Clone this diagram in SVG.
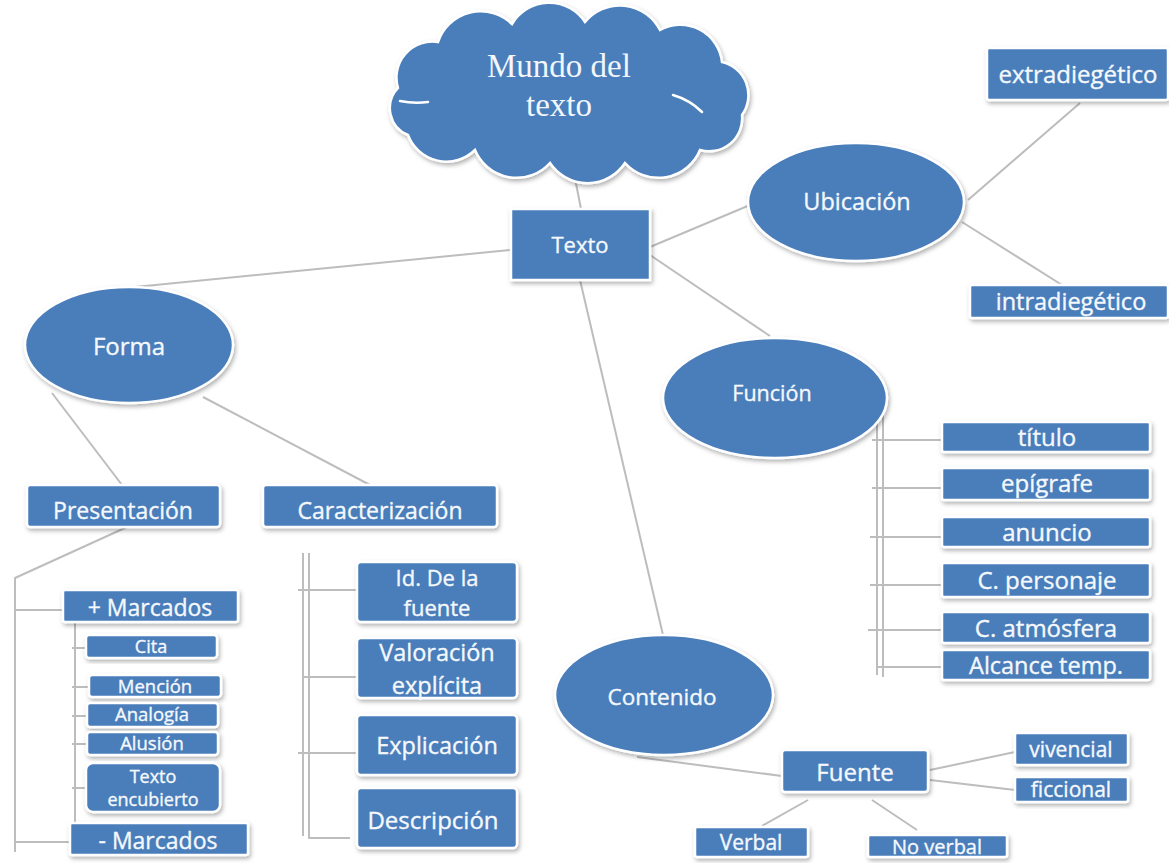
<svg xmlns="http://www.w3.org/2000/svg" width="1169" height="863" viewBox="0 0 1169 863">
  <defs>
    <filter id="shadow" x="-10%" y="-10%" width="125%" height="135%">
      <feDropShadow dx="1.5" dy="2.5" stdDeviation="2" flood-color="#000" flood-opacity="0.3"/>
    </filter>
  </defs>
  <style>
    .shape { fill: #4a7ebb; stroke: #ffffff; stroke-width: 2.5; filter: url(#shadow); }
    .lbl { font-family: "Open Sans", Lato, "Liberation Sans", sans-serif; fill: #f5f8fc; stroke: #f5f8fc; stroke-width: 0.35; text-anchor: middle; }
    .serif { font-family: "Liberation Serif", "DejaVu Serif", serif; fill: #f3f6fb; text-anchor: middle; }
    .conn { fill: none; stroke: #bdbdbd; stroke-width: 2; stroke-linejoin: round; }
    .inner { fill: none; stroke: #ffffff; stroke-width: 2.5; stroke-linecap: round; }
  </style>
  <rect width="1169" height="863" fill="#ffffff"/>

  <!-- connectors -->
  <g id="connectors">
    <path class="conn" d="M572,163 L581,209"/>
    <path class="conn" d="M510,250 L125,288"/>
    <path class="conn" d="M650,247 L750,205"/>
    <path class="conn" d="M650,255 L770,336"/>
    <path class="conn" d="M580,280 L663,635"/>
    <path class="conn" d="M968,200 L1080,103"/>
    <path class="conn" d="M962,222 L1062,285"/>
    <path class="conn" d="M52,393 L122,485"/>
    <path class="conn" d="M203,397 L370,485"/>
    <!-- Presentación bracket -->
    <path class="conn" d="M127,527 L15,578 L15,852"/>
    <path class="conn" d="M15,610 H63"/>
    <path class="conn" d="M15,842 H70"/>
    <!-- + Marcados bracket -->
    <path class="conn" d="M75,622 V828"/>
    <path class="conn" d="M72,648 H87 M72,687 H89 M72,716 H87 M72,744 H87 M72,788 H86"/>
    <!-- Caracterización bracket -->
    <path class="conn" d="M303,553 V836"/>
    <path class="conn" d="M309,553 V838 H350"/>
    <path class="conn" d="M298,590 H357 M303,677 H357 M298,753 H357"/>
    <!-- Función bracket -->
    <path class="conn" d="M877,410 V675"/>
    <path class="conn" d="M883,410 V677"/>
    <path class="conn" d="M872,440 H942 M872,488 H942 M870,537 H942 M870,585 H942 M868,630 H942 M876,667 H942"/>
    <!-- Contenido / Fuente -->
    <path class="conn" d="M637,757 L782,776"/>
    <path class="conn" d="M930,770 L1015,752"/>
    <path class="conn" d="M930,780 L1015,790"/>
    <path class="conn" d="M808,800 L762,826"/>
    <path class="conn" d="M872,800 L917,830"/>
  </g>

  <!-- cloud -->
  <g id="mundo">
    <path class="shape" d="M408,135 A29,29 0 0 1 398,88 A36,36 0 0 1 438,42 A45,45 0 0 1 512,24 A43,43 0 0 1 585,22 A45,45 0 0 1 660,30 A42,42 0 0 1 722,62 A34,34 0 0 1 742,115 A33,33 0 0 1 700,150 A45,45 0 0 1 625,163 A45,45 0 0 1 550,163 A45,45 0 0 1 475,150 A41,41 0 0 1 408,135 Z"/>
    <path class="inner" d="M400,101 Q414,104 428,102"/>
    <path class="inner" d="M673,95 Q690,100 702,112"/>
    <text class="serif" x="559" y="77" font-size="33">Mundo del</text>
    <text class="serif" x="559" y="116" font-size="33">texto</text>
  </g>

  <g id="texto">
    <rect class="shape" x="511" y="209" width="139" height="71"/>
    <text class="lbl" x="580" y="253" font-size="22">Texto</text>
  </g>

  <g id="ubicacion">
    <ellipse class="shape" cx="856" cy="202" rx="108" ry="59"/>
    <text class="lbl" x="857" y="210" font-size="23.5">Ubicación</text>
  </g>
  <g id="extradiegetico">
    <rect class="shape" x="987" y="48" width="181" height="52" rx="2"/>
    <text class="lbl" x="1078" y="83" font-size="24">extradiegético</text>
  </g>
  <g id="intradiegetico">
    <rect class="shape" x="970" y="285" width="198" height="33" rx="2"/>
    <text class="lbl" x="1071" y="310" font-size="23.5">intradiegético</text>
  </g>

  <g id="funcion">
    <ellipse class="shape" cx="775" cy="398" rx="112" ry="60"/>
    <text class="lbl" x="772" y="401" font-size="21.5">Función</text>
  </g>
  <g id="titulo">
    <rect class="shape" x="942" y="422" width="208" height="30" rx="2"/>
    <text class="lbl" x="1047" y="446" font-size="24">título</text>
  </g>
  <g id="epigrafe">
    <rect class="shape" x="942" y="468" width="208" height="32" rx="2"/>
    <text class="lbl" x="1047" y="492" font-size="24">epígrafe</text>
  </g>
  <g id="anuncio">
    <rect class="shape" x="942" y="517" width="208" height="30" rx="2"/>
    <text class="lbl" x="1047" y="541" font-size="24">anuncio</text>
  </g>
  <g id="personaje">
    <rect class="shape" x="942" y="563" width="208" height="34" rx="2"/>
    <text class="lbl" x="1047" y="589" font-size="24">C. personaje</text>
  </g>
  <g id="atmosfera">
    <rect class="shape" x="942" y="612" width="208" height="31" rx="2"/>
    <text class="lbl" x="1046" y="637" font-size="24">C. atmósfera</text>
  </g>
  <g id="alcance">
    <rect class="shape" x="942" y="650" width="208" height="30" rx="2"/>
    <text class="lbl" x="1046" y="674" font-size="23.5">Alcance temp.</text>
  </g>

  <g id="forma">
    <ellipse class="shape" cx="129" cy="345" rx="104" ry="58"/>
    <text class="lbl" x="129" y="355" font-size="24">Forma</text>
  </g>
  <g id="presentacion">
    <rect class="shape" x="27" y="485" width="193" height="42" rx="3"/>
    <text class="lbl" x="123" y="519" font-size="23">Presentación</text>
  </g>
  <g id="caracterizacion">
    <rect class="shape" x="263" y="485" width="234" height="42" rx="3"/>
    <text class="lbl" x="380" y="519" font-size="23">Caracterización</text>
  </g>

  <g id="mas-marcados">
    <rect class="shape" x="63" y="590" width="175" height="32" rx="2"/>
    <text class="lbl" x="150" y="616" font-size="23">+ Marcados</text>
  </g>
  <g id="cita">
    <rect class="shape" x="86" y="635" width="131" height="23" rx="3"/>
    <text class="lbl" x="151" y="653" font-size="18">Cita</text>
  </g>
  <g id="mencion">
    <rect class="shape" x="89" y="675" width="132" height="22" rx="3"/>
    <text class="lbl" x="155" y="693" font-size="18.5">Mención</text>
  </g>
  <g id="analogia">
    <rect class="shape" x="87" y="703" width="131" height="24" rx="3"/>
    <text class="lbl" x="152" y="721" font-size="18.5">Analogía</text>
  </g>
  <g id="alusion">
    <rect class="shape" x="87" y="732" width="131" height="23" rx="3"/>
    <text class="lbl" x="152" y="750" font-size="18.5">Alusión</text>
  </g>
  <g id="encubierto">
    <rect class="shape" x="86" y="763" width="134" height="49" rx="7"/>
    <text class="lbl" x="153" y="783" font-size="18">Texto</text>
    <text class="lbl" x="153" y="806" font-size="18">encubierto</text>
  </g>
  <g id="menos-marcados">
    <rect class="shape" x="70" y="823" width="178" height="32" rx="2"/>
    <text class="lbl" x="158" y="849" font-size="23">- Marcados</text>
  </g>

  <g id="id-fuente">
    <rect class="shape" x="357" y="562" width="160" height="60" rx="4"/>
    <text class="lbl" x="437" y="586" font-size="22">Id. De la</text>
    <text class="lbl" x="437" y="616" font-size="22">fuente</text>
  </g>
  <g id="valoracion">
    <rect class="shape" x="357" y="638" width="160" height="60" rx="4"/>
    <text class="lbl" x="437" y="661" font-size="23.5">Valoración</text>
    <text class="lbl" x="437" y="694" font-size="23.5">explícita</text>
  </g>
  <g id="explicacion">
    <rect class="shape" x="357" y="715" width="160" height="60" rx="4"/>
    <text class="lbl" x="437" y="754" font-size="23.5">Explicación</text>
  </g>
  <g id="descripcion">
    <rect class="shape" x="357" y="788" width="160" height="60" rx="4"/>
    <text class="lbl" x="433" y="829" font-size="24">Descripción</text>
  </g>

  <g id="contenido">
    <ellipse class="shape" cx="664" cy="695" rx="109" ry="60"/>
    <text class="lbl" x="662" y="705" font-size="22.5">Contenido</text>
  </g>
  <g id="fuente">
    <rect class="shape" x="782" y="750" width="146" height="42" rx="3"/>
    <text class="lbl" x="855" y="781" font-size="24">Fuente</text>
  </g>
  <g id="vivencial">
    <rect class="shape" x="1015" y="733" width="113" height="32" rx="2"/>
    <text class="lbl" x="1071" y="757" font-size="21">vivencial</text>
  </g>
  <g id="ficcional">
    <rect class="shape" x="1015" y="777" width="113" height="25" rx="2"/>
    <text class="lbl" x="1071" y="797" font-size="21">ficcional</text>
  </g>
  <g id="verbal">
    <rect class="shape" x="695" y="827" width="113" height="30" rx="2"/>
    <text class="lbl" x="751" y="850" font-size="21">Verbal</text>
  </g>
  <g id="no-verbal">
    <rect class="shape" x="868" y="835" width="139" height="22" rx="2"/>
    <text class="lbl" x="937" y="854" font-size="20">No verbal</text>
  </g>
</svg>
